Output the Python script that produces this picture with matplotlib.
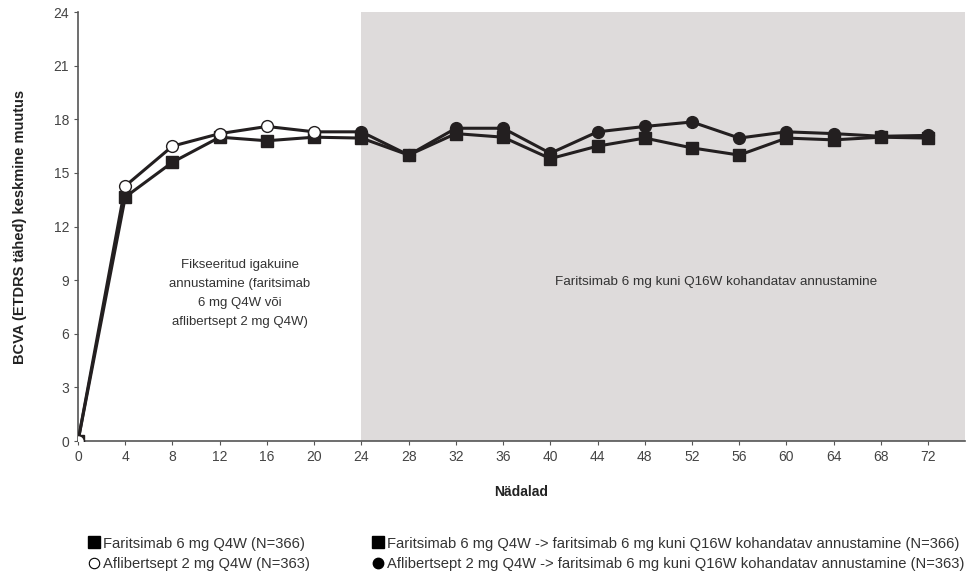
import matplotlib.pyplot as plt
from matplotlib.lines import Line2D

# data
weeks = [0, 4, 8, 12, 16, 20, 24, 28, 32, 36, 40, 44, 48, 52, 56, 60, 64, 68, 72]
faricimab = [0, 13.65, 15.6, 17.0, 16.8, 17.0, 16.95, 16.0, 17.2, 17.0, 15.8, 16.5,
             16.95, 16.4, 16.0, 16.95, 16.85, 17.0, 16.95]
aflibercept = [0, 14.27, 16.5, 17.2, 17.6, 17.3, 17.3, 16.0, 17.5, 17.5, 16.1, 17.3,
               17.6, 17.85, 16.95, 17.3, 17.2, 17.05, 17.1]
switch_week = 24
xticks = list(range(0, 76, 4))
yticks = list(range(0, 25, 3))

plt.rcParams['font.family'] = ['Liberation Sans', 'DejaVu Sans']
ink = '#231f20'
grey_txt = '#444444'

fig = plt.figure(figsize=(9.67, 5.75), dpi=100)
ax = fig.add_axes([0.0807, 0.233, 0.917, 0.746])

ax.axvspan(switch_week, 80, color='#dedbdb', lw=0, zorder=0)

i = weeks.index(switch_week)
# faricimab: squares all the way
ax.plot(weeks, faricimab, color=ink, lw=2.2, marker='s', ms=8.5,
        mfc=ink, mec=ink, zorder=3)
# aflibercept: open circles up to week 24, filled circles after
ax.plot(weeks[:i + 1], aflibercept[:i + 1], color=ink, lw=2.2, zorder=2)
ax.plot(weeks[i:], aflibercept[i:], color=ink, lw=2.2, marker='o', ms=8.5,
        mfc=ink, mec=ink, zorder=2)
ax.plot(weeks[:i], aflibercept[:i], ls='none', marker='o', ms=8.5,
        mfc='white', mec=ink, mew=1.0, zorder=4)

ax.set_xlim(0, 75.1)
ax.set_ylim(0, 24)
ax.set_xticks(xticks)
ax.set_yticks(yticks)
ax.tick_params(labelsize=10, colors='#555555', labelcolor=grey_txt, length=3)
for s in ['top', 'right']:
    ax.spines[s].set_visible(False)
for s in ['left', 'bottom']:
    ax.spines[s].set_color('#555555')
    ax.spines[s].set_linewidth(1.2)

ax.set_xlabel('Nädalad', fontsize=10, fontweight='bold', labelpad=15, color='#222222')
ax.set_ylabel('BCVA (ETDRS tähed) keskmine muutus', fontsize=10.5,
              fontweight='bold', labelpad=19, color='#222222')

ax.text(13.7, 8.25, 'Fikseeritud igakuine\nannustamine (faritsimab\n6 mg Q4W või\naflibertsept 2 mg Q4W)',
        ha='center', va='center', fontsize=9.5, color='#333333', linespacing=1.75)
ax.text(54, 8.9, 'Faritsimab 6 mg kuni Q16W kohandatav annustamine',
        ha='center', va='center', fontsize=9.7, color='#333333')

sq = Line2D([], [], ls='none', marker='s', ms=8.5, color='black')
oc = Line2D([], [], ls='none', marker='o', ms=7.5, mfc='white', mec='black', mew=0.8)
fc = Line2D([], [], ls='none', marker='o', ms=7.5, color='black')

leg_kw = dict(frameon=False, fontsize=10.6, handletextpad=0.15, labelspacing=0.45,
              handlelength=0.9, borderaxespad=0, labelcolor='#333333')
fig.legend([sq, oc], ['Faritsimab 6 mg Q4W (N=366)', 'Aflibertsept 2 mg Q4W (N=363)'],
           loc='upper left', bbox_to_anchor=(0.084, 0.077), **leg_kw)
fig.legend([sq, fc], ['Faritsimab 6 mg Q4W -> faritsimab 6 mg kuni Q16W kohandatav annustamine (N=366)',
                      'Aflibertsept 2 mg Q4W -> faritsimab 6 mg kuni Q16W kohandatav annustamine (N=363)'],
           loc='upper left', bbox_to_anchor=(0.378, 0.077), **leg_kw)

fig.savefig('out.png', dpi=100)
